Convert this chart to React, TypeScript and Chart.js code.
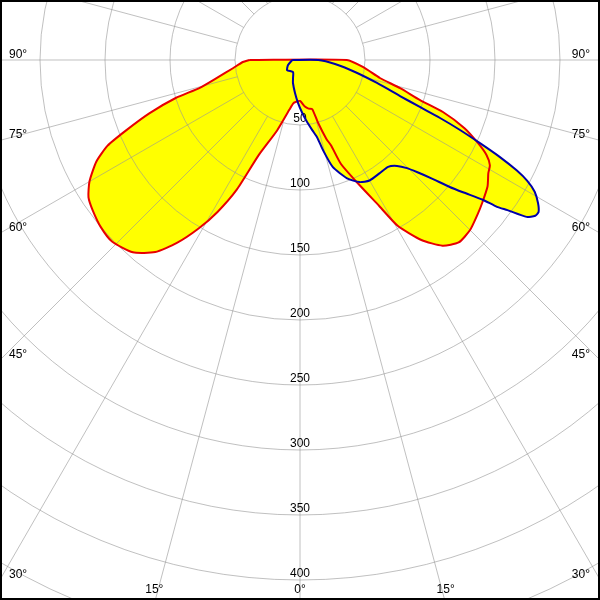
import React, { useEffect, useRef } from 'react';
import { Chart, registerables } from 'chart.js';

Chart.register(...registerables);

// Photometric data (angle in degrees from nadir, negative = left; intensity in cd/klm)
const RED_ANGLES = [
  -90, -88, -83, -78, -74.5, -73, -70.5, -68, -66, -63.5, -60, -57, -54, -50, -46, -41, -37, -34, -31,
  -28.5, -26, -23.5, -18, -12, -9, -6, 0, 6, 10, 14, 16, 18.5, 20, 21.5, 25, 28.5, 30.5, 34, 37.5, 41,
  45, 49, 52, 56, 59, 61, 63, 65, 67.5, 70, 71.6, 74.3, 77.3, 83.5, 90,
];
const RED_VALUES = [
  39, 44, 52, 65, 80, 100, 123, 144, 162, 175, 187, 194, 197, 200, 201, 196, 185, 170, 151,
  133, 111, 80, 57, 39, 34, 32.5, 31.5, 36, 38, 39, 50, 64, 70, 86, 104, 128, 148, 167, 180, 186,
  185, 181, 178, 174, 169, 167, 161, 151, 137, 117, 97, 80, 63, 49, 36,
];

const BLUE_ANGLES = [
  -90, -67, -52, -30, -21, -17, -8.6, -2.7, 2, 6, 10, 12.5, 14.3, 17, 21.7, 26, 30, 35, 39.5, 42.5,
  44.7, 46.3, 48, 49.7, 51, 52.6, 53.3, 54.1, 55.3, 56.5, 57.5, 59, 60.7, 62, 63, 64.1, 65.2, 66.4,
  67.5, 68.6, 70.2, 73.4, 77.7, 83.5, 90,
];
const BLUE_VALUES = [
  6, 10, 12.6, 10.7, 15, 18.5, 25.7, 33, 40, 47, 55, 61, 71.5, 86, 98, 104.5, 107, 106.5, 106.5, 110.5,
  117, 125, 136, 151, 162, 177, 189, 197, 212, 217, 217.6, 213.6, 207, 198, 187, 171, 152.5, 134,
  116.6, 99, 81.8, 61.8, 43.3, 27.1, 14,
];

const RADIAL_TICKS = [50, 100, 150, 200, 250, 300, 350, 400];
const GRID_CIRCLES = [50, 100, 150, 200, 250, 300, 350, 400, 450, 500];
const ANGLE_TICKS = [90, 75, 60, 45, 30, 15, 0];
const GRID_STEP_DEG = 15;

const X_MIN = -230.77;
const X_MAX = 230.77;
const Y_MIN = -415.38;
const Y_MAX = 46.15;

const GRID_COLOR = 'rgba(150,150,150,0.6)';
const FILL_COLOR = '#ffff00';
const RED = '#e80000';
const BLUE = '#0000aa';
const FONT = '12px "Liberation Sans", Arial, sans-serif';

// closed polygon: the curve from -90° to +90°, closed back through the 90° line
function toXY(angles: number[], values: number[]) {
  const pts = angles.map((a, i) => {
    const t = (a * Math.PI) / 180;
    return { x: values[i] * Math.sin(t), y: -values[i] * Math.cos(t) };
  });
  pts.push({ ...pts[0] });
  return pts;
}

const polarGrid = {
  id: 'polarGrid',
  beforeDatasetsDraw(chart: any) {
    const { ctx, chartArea } = chart;
    const { left, right, top, bottom } = chartArea;
    ctx.save();
    ctx.beginPath();
    ctx.rect(left, top, right - left, bottom - top);
    ctx.clip();

    // yellow fill of every curve (union), below grid and outlines
    ctx.fillStyle = FILL_COLOR;
    chart.getSortedVisibleDatasetMetas().forEach((meta: any) => {
      const line = meta.dataset;
      if (!line || !line.points || !line.points.length) return;
      line.updateControlPoints(chartArea, 'x');
      ctx.beginPath();
      line.path(ctx);
      ctx.closePath();
      ctx.fill();
    });

    const xs = chart.scales.x;
    const ys = chart.scales.y;
    const cx = xs.getPixelForValue(0);
    const cy = ys.getPixelForValue(0);
    const unit = Math.abs(xs.getPixelForValue(100) - cx) / 100;

    ctx.strokeStyle = GRID_COLOR;
    ctx.lineWidth = 1;
    GRID_CIRCLES.forEach((v) => {
      ctx.beginPath();
      ctx.arc(cx, cy, v * unit, 0, Math.PI * 2);
      ctx.stroke();
    });
    const r0 = GRID_CIRCLES[0] * unit;
    const r1 = 3000;
    for (let a = 0; a < 360; a += GRID_STEP_DEG) {
      const t = (a * Math.PI) / 180;
      const dx = Math.sin(t);
      const dy = Math.cos(t);
      ctx.beginPath();
      ctx.moveTo(cx + dx * r0, cy + dy * r0);
      ctx.lineTo(cx + dx * r1, cy + dy * r1);
      ctx.stroke();
    }
    ctx.fillStyle = '#000';
    ctx.font = FONT;
    ctx.textBaseline = 'alphabetic';
    ctx.textAlign = 'center';
    RADIAL_TICKS.forEach((v) => {
      ctx.fillText(String(v), cx, cy + v * unit - 2.5);
    });
    ANGLE_TICKS.forEach((a) => {
      const t = (a * Math.PI) / 180;
      const s = Math.sin(t);
      const c = Math.cos(t);
      const label = a + '°';
      let ySide = Infinity;
      if (s > 1e-6) ySide = cy + ((cx - left) / s) * c;
      if (ySide < bottom - 8) {
        ctx.textAlign = 'left';
        ctx.fillText(label, left + 9, ySide - 2);
        ctx.textAlign = 'right';
        ctx.fillText(label, right - 10, ySide - 2);
      } else {
        const dxb = (bottom - cy) * (s / c);
        ctx.textAlign = 'center';
        if (a === 0) {
          ctx.fillText(label, cx, bottom - 7);
        } else {
          ctx.fillText(label, cx - dxb - 1, bottom - 7);
          ctx.fillText(label, cx + dxb + 1, bottom - 7);
        }
      }
    });
    ctx.restore();
  },
  afterDraw(chart: any) {
    const { ctx } = chart;
    ctx.save();
    ctx.strokeStyle = '#000';
    ctx.lineWidth = 2;
    ctx.strokeRect(1, 1, chart.width - 2, chart.height - 2);
    ctx.restore();
  },
};

export default function App() {
  const ref = useRef<HTMLCanvasElement | null>(null);
  useEffect(() => {
    if (!ref.current) return;
    const chart = new Chart(ref.current, {
      type: 'scatter',
      data: {
        datasets: [
          {
            label: 'C90-C270',
            data: toXY(BLUE_ANGLES, BLUE_VALUES),
            showLine: true,
            borderColor: BLUE,
            borderWidth: 2,
            fill: false,
            pointRadius: 0,
            tension: 0.2,
          },
          {
            label: 'C0-C180',
            data: toXY(RED_ANGLES, RED_VALUES),
            showLine: true,
            borderColor: RED,
            borderWidth: 2,
            fill: false,
            pointRadius: 0,
            tension: 0.2,
          },
        ],
      },
      options: {
        responsive: false,
        animation: false,
        layout: { padding: 0 },
        scales: {
          x: { type: 'linear', min: X_MIN, max: X_MAX, display: false },
          y: { type: 'linear', min: Y_MIN, max: Y_MAX, display: false },
        },
        plugins: {
          legend: { display: false },
          tooltip: { enabled: false },
        },
      } as any,
      plugins: [polarGrid],
    });
    return () => chart.destroy();
  }, []);
  return (
    <div style={{ position: 'absolute', left: 0, top: 0, width: 600, height: 600, background: '#fff' }}>
      <canvas ref={ref} width={600} height={600} />
    </div>
  );
}
